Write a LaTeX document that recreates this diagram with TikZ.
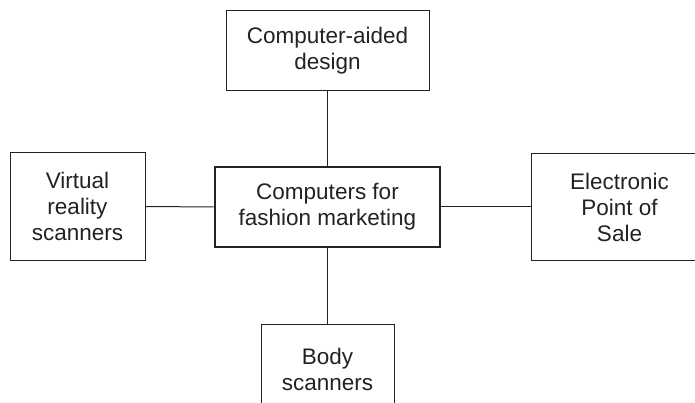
\documentclass[tikz,border=0pt]{standalone}
\usepackage{fontspec}
\setmainfont{Liberation Sans}
\definecolor{ink}{HTML}{222222}
\begin{document}
\begin{tikzpicture}[x=1pt,y=-1pt,
  box/.style={draw=ink,line width=1pt,inner sep=0pt,align=center,text=ink,
    font=\fontsize{22.5}{26}\selectfont},
  mainbox/.style={box,line width=2.6pt},
  link/.style={draw=ink,line width=1pt}]
\useasboundingbox (0,0) rectangle (695,403);
\clip (0,0) rectangle (695,403);
\node[mainbox,minimum width=225,minimum height=80] (c) at (327.5,207) {Computers for\\fashion marketing};
\node[box,minimum width=203,minimum height=80] (t) at (327.5,51) {Computer-aided\\design};
\node[box,minimum width=135,minimum height=107] (l) at (77.5,206.5) {Virtual\\reality\\scanners};
\node[box,minimum width=177,minimum height=106] (r) at (619.5,207) {Electronic\\Point of\\Sale};
\node[box,minimum width=133,minimum height=90] (b) at (327.5,369) {Body\\scanners};
\draw[link] (c.north) -- (t.south);
\draw[link] (c.south) -- (b.north);
\draw[link] (c.west) -- (l.east);
\draw[link] (c.east) -- (r.west);
\end{tikzpicture}
\end{document}
